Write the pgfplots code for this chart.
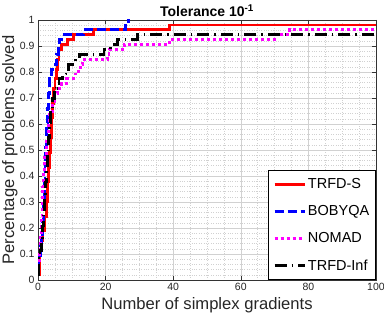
\documentclass[border=0pt]{standalone}
\usepackage{fontspec}
\setmainfont{Liberation Sans}
\usepackage{pgfplots}
\pgfplotsset{compat=1.18}
\usetikzlibrary{calc}
\definecolor{mag}{RGB}{255,0,255}
\definecolor{rd}{RGB}{255,0,0}
\definecolor{bl}{RGB}{0,0,255}

\begin{document}
\begin{tikzpicture}
\begin{axis}[
  scale only axis, width=338pt, height=260pt,
  xmin=0, xmax=100, ymin=0, ymax=1,
  xtick={0,20,40,60,80,100},
  ytick={0,0.1,0.2,0.3,0.4,0.5,0.6,0.7,0.8,0.9,1},
  minor x tick num=3, minor y tick num=4,
  grid=both,
  major grid style={color=black!18, line width=0.5pt},
  minor grid style={color=black!18, dotted, line width=0.5pt},
  tick align=inside, major tick length=4pt, minor tick length=0pt,
  tick style={color=black!80, line width=0.5pt},
  axis line style={color=black!80, line width=0.6pt},
  ticklabel style={font=\fontsize{10.5}{12}\selectfont, color=black!85},
  /pgf/number format/assume math mode=true,
  yticklabel style={/pgf/number format/fixed, /pgf/number format/precision=1},
  xlabel={Number of simplex gradients},
  ylabel={Percentage of problems solved},
  every axis y label/.style={at={(axis description cs:-0.083,0.5)}, rotate=90, anchor=center},
  label style={font=\fontsize{16.6}{19}\selectfont, color=black!85},
  title={\textbf{Tolerance 10\textsuperscript{-1}}},
  every axis title/.style={at={(axis description cs:0.5,1)}, anchor=south, yshift=3pt, inner sep=0pt},
  title style={font=\fontsize{14}{16}\selectfont},
  legend style={at={(1,0)}, anchor=south east, font=\fontsize{14.5}{17}\selectfont,
    draw=black, line width=0.6pt, fill=white, row sep=11.5pt, inner xsep=4.5pt, inner ysep=6pt},
  legend cell align=left,
  legend image code/.code={\draw[#1] (0pt,0pt) -- (30pt,0pt);},
  every axis plot/.append style={line width=2.8pt, const plot},
]
% TRFD-S
\addplot[color=rd] coordinates {
(0,0.019)(0.5,0.094)(0.8,0.113)(1.2,0.151)(1.5,0.189)(2.0,0.245)(2.4,0.302)
(2.8,0.377)(3.0,0.434)(3.3,0.491)(3.6,0.547)(3.9,0.623)(4.2,0.679)(4.6,0.736)
(5.0,0.774)(5.5,0.811)(5.8,0.849)(6.2,0.887)(7.0,0.906)(8.7,0.925)(10.5,0.943)
(16.5,0.962)(39,0.981)(100,0.981)};
% BOBYQA
\addplot[color=bl, dash pattern=on 9pt off 4pt] coordinates {
(0,0.038)(0.3,0.094)(0.7,0.132)(1.0,0.170)(1.3,0.226)(1.6,0.302)(1.9,0.377)
(2.1,0.453)(2.3,0.509)(2.6,0.604)(2.9,0.660)(3.2,0.717)(3.5,0.774)(4.0,0.811)
(5.0,0.830)(5.5,0.868)(6.0,0.906)(6.3,0.925)(7.0,0.943)(13.5,0.962)(25.8,0.981)
(26.8,1.0)(27,1.0)};
% NOMAD
\addplot[color=mag, dash pattern=on 3pt off 3pt] coordinates {
(0,0.075)(0.4,0.113)(0.7,0.170)(1.0,0.245)(1.2,0.302)(1.4,0.358)(1.7,0.415)
(2.0,0.472)(2.5,0.547)(3.0,0.604)(3.5,0.642)(4.2,0.679)(5.0,0.717)(5.8,0.736)
(7.0,0.755)(8.5,0.774)(10.5,0.792)(12.0,0.811)(12.5,0.830)(13.2,0.849)
(20.5,0.868)(21,0.887)(25.5,0.906)(39,0.925)(70,0.943)(74.5,0.962)(100,0.962)};
% TRFD-Inf
\addplot[color=black, dash pattern=on 12pt off 5pt on 1.5pt off 5pt] coordinates {
(0,0.019)(0.2,0.094)(0.6,0.113)(1.0,0.151)(1.3,0.208)(1.6,0.264)(1.9,0.321)
(2.2,0.377)(2.5,0.434)(2.8,0.491)(3.1,0.547)(3.4,0.604)(3.8,0.660)(4.3,0.698)
(4.8,0.736)(5.5,0.755)(6.2,0.774)(7.2,0.792)(8.3,0.811)(9.0,0.830)(11.2,0.849)
(12.2,0.868)(19.5,0.887)(21.5,0.906)(23.5,0.925)(29.5,0.943)(100,0.943)};
\legend{TRFD-S, BOBYQA, NOMAD, TRFD-Inf}
\end{axis}
\pgfresetboundingbox
\path ($(current axis.south west)+(-38pt,-40pt)$) rectangle ($(current axis.north east)+(8pt,20pt)$);
\end{tikzpicture}
\end{document}
